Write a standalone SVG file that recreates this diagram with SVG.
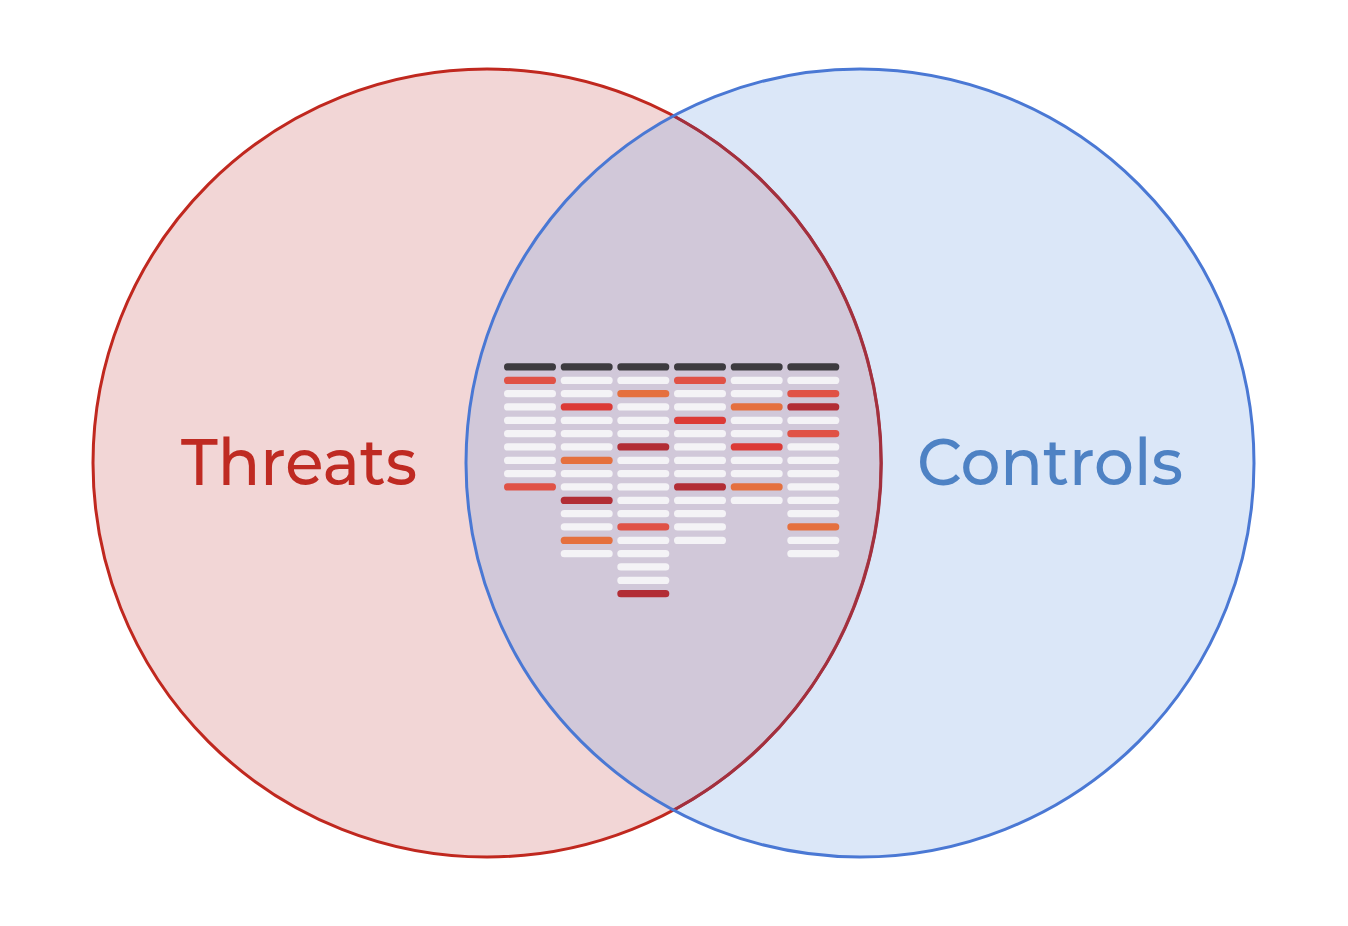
<svg xmlns="http://www.w3.org/2000/svg" width="1348" height="926" viewBox="0 0 1348 926">
<style>
.lbl{font-family:"Montserrat","Open Sans","Noto Sans",sans-serif;font-weight:500;font-size:66px}
rect.b{width:52px;height:7.3px;rx:3.6px;ry:3.6px}
.h{fill:#3d3b3f}.w{fill:#f4f3f6}.r1{fill:#e05246}.r2{fill:#dc3a36}.o{fill:#e5703e}.d{fill:#b22d35}
</style>
<rect width="1348" height="926" fill="#ffffff"/>
<g id="threats">
<circle cx="487" cy="463" r="394" fill="#f2d6d6" stroke="#c0281f" stroke-width="3"/>
</g>
<g id="controls">
<circle cx="860" cy="463" r="394" fill="#6f9fe3" fill-opacity="0.25" stroke="none"/>
<path d="M 674.5 116.3 A 394 394 0 0 1 674.5 809.7" fill="none" stroke="#a3303e" stroke-width="3"/>
<circle cx="860" cy="463" r="394" fill="none" stroke="#4a78d4" stroke-width="3"/>
</g>
<g id="threats-label"><text class="lbl" x="299" y="485" text-anchor="middle" fill="#bf2a22" textLength="236" lengthAdjust="spacingAndGlyphs">Threats</text></g>
<g id="controls-label"><text class="lbl" x="1050" y="485" text-anchor="middle" fill="#4e82c4" textLength="266" lengthAdjust="spacingAndGlyphs">Controls</text></g>
<g id="grid">
<g id="col1">
<rect class="b h" x="504" y="363.3"/><rect class="b r1" x="504" y="376.7"/><rect class="b w" x="504" y="390"/><rect class="b w" x="504" y="403.3"/><rect class="b w" x="504" y="416.7"/><rect class="b w" x="504" y="430"/><rect class="b w" x="504" y="443.3"/><rect class="b w" x="504" y="456.7"/><rect class="b w" x="504" y="470"/><rect class="b r1" x="504" y="483.3"/>
</g>
<g id="col2">
<rect class="b h" x="560.7" y="363.3"/><rect class="b w" x="560.7" y="376.7"/><rect class="b w" x="560.7" y="390"/><rect class="b r2" x="560.7" y="403.3"/><rect class="b w" x="560.7" y="416.7"/><rect class="b w" x="560.7" y="430"/><rect class="b w" x="560.7" y="443.3"/><rect class="b o" x="560.7" y="456.7"/><rect class="b w" x="560.7" y="470"/><rect class="b w" x="560.7" y="483.3"/><rect class="b d" x="560.7" y="496.7"/><rect class="b w" x="560.7" y="510"/><rect class="b w" x="560.7" y="523.3"/><rect class="b o" x="560.7" y="536.7"/><rect class="b w" x="560.7" y="550"/>
</g>
<g id="col3">
<rect class="b h" x="617.3" y="363.3"/><rect class="b w" x="617.3" y="376.7"/><rect class="b o" x="617.3" y="390"/><rect class="b w" x="617.3" y="403.3"/><rect class="b w" x="617.3" y="416.7"/><rect class="b w" x="617.3" y="430"/><rect class="b d" x="617.3" y="443.3"/><rect class="b w" x="617.3" y="456.7"/><rect class="b w" x="617.3" y="470"/><rect class="b w" x="617.3" y="483.3"/><rect class="b w" x="617.3" y="496.7"/><rect class="b w" x="617.3" y="510"/><rect class="b r1" x="617.3" y="523.3"/><rect class="b w" x="617.3" y="536.7"/><rect class="b w" x="617.3" y="550"/><rect class="b w" x="617.3" y="563.3"/><rect class="b w" x="617.3" y="576.7"/><rect class="b d" x="617.3" y="590"/>
</g>
<g id="col4">
<rect class="b h" x="674" y="363.3"/><rect class="b r1" x="674" y="376.7"/><rect class="b w" x="674" y="390"/><rect class="b w" x="674" y="403.3"/><rect class="b r2" x="674" y="416.7"/><rect class="b w" x="674" y="430"/><rect class="b w" x="674" y="443.3"/><rect class="b w" x="674" y="456.7"/><rect class="b w" x="674" y="470"/><rect class="b d" x="674" y="483.3"/><rect class="b w" x="674" y="496.7"/><rect class="b w" x="674" y="510"/><rect class="b w" x="674" y="523.3"/><rect class="b w" x="674" y="536.7"/>
</g>
<g id="col5">
<rect class="b h" x="730.7" y="363.3"/><rect class="b w" x="730.7" y="376.7"/><rect class="b w" x="730.7" y="390"/><rect class="b o" x="730.7" y="403.3"/><rect class="b w" x="730.7" y="416.7"/><rect class="b w" x="730.7" y="430"/><rect class="b r2" x="730.7" y="443.3"/><rect class="b w" x="730.7" y="456.7"/><rect class="b w" x="730.7" y="470"/><rect class="b o" x="730.7" y="483.3"/><rect class="b w" x="730.7" y="496.7"/>
</g>
<g id="col6">
<rect class="b h" x="787.3" y="363.3"/><rect class="b w" x="787.3" y="376.7"/><rect class="b r1" x="787.3" y="390"/><rect class="b d" x="787.3" y="403.3"/><rect class="b w" x="787.3" y="416.7"/><rect class="b r1" x="787.3" y="430"/><rect class="b w" x="787.3" y="443.3"/><rect class="b w" x="787.3" y="456.7"/><rect class="b w" x="787.3" y="470"/><rect class="b w" x="787.3" y="483.3"/><rect class="b w" x="787.3" y="496.7"/><rect class="b w" x="787.3" y="510"/><rect class="b o" x="787.3" y="523.3"/><rect class="b w" x="787.3" y="536.7"/><rect class="b w" x="787.3" y="550"/>
</g>
</g>
</svg>
